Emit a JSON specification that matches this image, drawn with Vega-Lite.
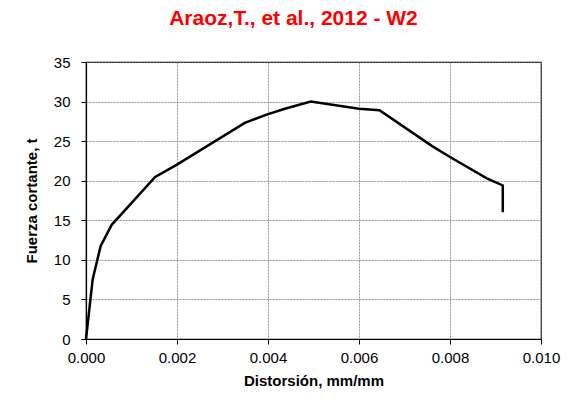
{
  "$schema": "https://vega.github.io/schema/vega-lite/v6.json",
  "width": 455,
  "height": 277,
  "autosize": "none",
  "padding": {"left": 86, "top": 62, "right": 32, "bottom": 64},
  "background": "white",
  "title": {
    "text": "Araoz,T., et al., 2012 - W2",
    "color": "#ff0000",
    "font": "Liberation Sans",
    "fontSize": 21,
    "fontWeight": "bold",
    "anchor": "middle",
    "dx": -20,
    "offset": 26
  },
  "data": {
    "values": [
      {"i": 0, "d": 0, "v": 0},
      {"i": 1, "d": 0.000147, "v": 7.56},
      {"i": 2, "d": 0.000323, "v": 11.77},
      {"i": 3, "d": 0.000565, "v": 14.43},
      {"i": 4, "d": 0.00152, "v": 20.47},
      {"i": 5, "d": 0.00199, "v": 22.0},
      {"i": 6, "d": 0.00349, "v": 27.3},
      {"i": 7, "d": 0.00397, "v": 28.35},
      {"i": 8, "d": 0.00437, "v": 29.1},
      {"i": 9, "d": 0.00494, "v": 30.0},
      {"i": 10, "d": 0.0060, "v": 29.1},
      {"i": 11, "d": 0.00645, "v": 28.9},
      {"i": 12, "d": 0.0076, "v": 24.4},
      {"i": 13, "d": 0.0080, "v": 23.0},
      {"i": 14, "d": 0.00881, "v": 20.3},
      {"i": 15, "d": 0.00916, "v": 19.4},
      {"i": 16, "d": 0.00916, "v": 16.0}
    ]
  },
  "mark": {"type": "line", "color": "black", "strokeWidth": 2.5, "strokeJoin": "miter"},
  "encoding": {
    "x": {
      "field": "d",
      "type": "quantitative",
      "scale": {"domain": [0, 0.01], "nice": false},
      "axis": {
        "title": "Distorsión, mm/mm",
        "format": ".3f",
        "values": [0, 0.002, 0.004, 0.006, 0.008, 0.01],
        "labelFlush": false,
        "labelOverlap": false,
        "titlePadding": 8
      }
    },
    "y": {
      "field": "v",
      "type": "quantitative",
      "scale": {"domain": [0, 35], "nice": false},
      "axis": {
        "title": "Fuerza cortante, t",
        "values": [0, 5, 10, 15, 20, 25, 30, 35],
        "labelFlush": false,
        "labelPadding": 11,
        "titlePadding": 14
      }
    },
    "order": {"field": "i", "type": "quantitative"}
  },
  "config": {
    "view": {"stroke": "black", "strokeWidth": 1.2},
    "axis": {
      "domainColor": "black",
      "domainWidth": 1.2,
      "tickColor": "black",
      "tickSize": 5,
      "labelFont": "Liberation Sans",
      "labelFontSize": 15,
      "labelColor": "black",
      "labelPadding": 6,
      "titleFont": "Liberation Sans",
      "titleFontSize": 15,
      "titleFontWeight": "bold",
      "titleColor": "black",
      "gridColor": "#7a7a7a",
      "gridDash": [2, 1],
      "gridWidth": 0.8,
      "gridOpacity": 1
    }
  }
}
